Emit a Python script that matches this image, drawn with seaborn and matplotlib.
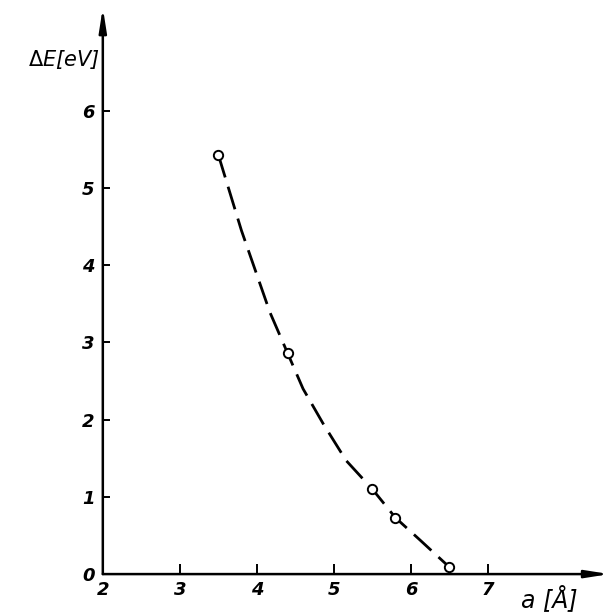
import matplotlib as mpl
mpl.use("Agg")
import matplotlib.pyplot as plt
import seaborn as sns
import pandas as pd

# measured points
a_pts = [3.5, 4.4, 5.5, 5.8, 6.5]
dE_pts = [5.43, 2.86, 1.10, 0.73, 0.09]

# points
a_curve = [3.5, 3.8, 4.17, 4.4, 4.6, 4.86, 5.16, 5.5, 5.8, 6.12, 6.5]
dE_curve = [5.43, 4.45, 3.39, 2.86, 2.40, 1.95, 1.47, 1.10, 0.73, 0.44, 0.09]

x_ticks = [2, 3, 4, 5, 6, 7]
y_ticks = [0, 1, 2, 3, 4, 5, 6]

sns.set_style("white")
plt.rcParams['font.family'] = ['DejaVu Sans']
plt.rcParams['text.color'] = 'black'
plt.rcParams['xtick.color'] = 'black'
plt.rcParams['ytick.color'] = 'black'

pts = pd.DataFrame({'a': a_pts, 'dE': dE_pts})
curve = pd.DataFrame({'a': a_curve, 'dE': dE_curve})

fig = plt.figure(figsize=(6.12, 6.14), dpi=100)
ax = fig.add_axes([0.168, 0.065, 0.828, 0.918])

sns.lineplot(data=curve, x='a', y='dE', ax=ax, color='black', lw=2.0,
             dashes=False, sort=False)
ax.lines[-1].set_dashes([8.5, 3.5])
sns.scatterplot(data=pts, x='a', y='dE', ax=ax, marker='o', s=45,
                facecolor='white', edgecolor='black', linewidth=1.4, zorder=5)

ax.set_xlim(2, 8.58)
ax.set_ylim(0, 7.3)
ax.set_xticks(x_ticks)
ax.set_yticks(y_ticks)
ax.set_xticklabels([str(t) for t in x_ticks], fontstyle='italic', fontweight='bold', fontsize=13)
ax.set_yticklabels([str(t) for t in y_ticks], fontstyle='italic', fontweight='bold', fontsize=13)
ax.tick_params(axis='x', direction='in', length=7, width=1.4, pad=5, bottom=True)
ax.tick_params(axis='y', direction='in', length=5, width=1.4, pad=6, left=True)
ax.set_xlabel('')
ax.set_ylabel('')

for s in ['top', 'right', 'left', 'bottom']:
    ax.spines[s].set_visible(False)

# axes with arrows
ax.annotate('', xy=(1.0, 0), xytext=(0, 0), xycoords='axes fraction',
            arrowprops=dict(arrowstyle='-|>,head_length=1.4,head_width=0.22',
                            color='black', lw=1.8, shrinkA=0, shrinkB=0))
ax.annotate('', xy=(0, 1.005), xytext=(0, 0), xycoords='axes fraction',
            arrowprops=dict(arrowstyle='-|>,head_length=1.4,head_width=0.22',
                            color='black', lw=1.8, shrinkA=0, shrinkB=0))

fig.text(0.045, 0.893, r'$\mathit{\Delta}$E[eV]', fontstyle='italic', fontsize=15)
fig.text(0.852, 0.012, 'a [Å]', fontstyle='italic', fontsize=17)

fig.savefig('out.png', dpi=100)
